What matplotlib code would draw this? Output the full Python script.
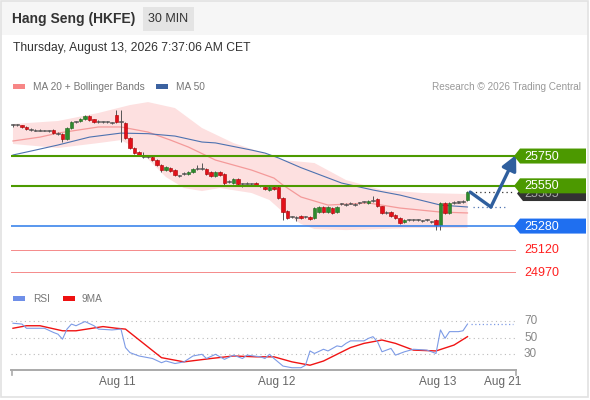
import matplotlib
matplotlib.use("Agg")
import matplotlib.pyplot as plt
from matplotlib.patches import Rectangle, Polygon

plt.rcParams['font.family'] = ['Liberation Sans', 'DejaVu Sans']

# 30 min candles, Hang Seng futures
opens = [25958, 25955, 25956, 25945, 25931, 25926, 25920, 25924, 25921, 25928,
         25905, 25898, 25864, 25938, 25978, 25982, 25998, 26018, 25996, 25980,
         25984, 25979, 25976, 26025, 25978, 25971, 25871, 25804, 25777, 25750,
         25747, 25743, 25723, 25690, 25656, 25669, 25656, 25620, 25630, 25629,
         25643, 25663, 25665, 25663, 25643, 25616, 25643, 25629, 25575, 25569,
         25596, 25566, 25565, 25566, 25569, 25550, 25542, 25522, 25542, 25542,
         25468, 25381, 25345, 25341, 25347, 25338, 25341, 25334, 25374, 25408,
         25374, 25401, 25374, 25426, 25428, 25430, 25428, 25432, 25439, 25435,
         25448, 25461, 25414, 25372, 25374, 25354, 25334, 25307, 25320, 25322,
         25320, 25316, 25320, 25308, 25321, 25287, 25435, 25368, 25432, 25438,
         25440, 25455]
closes = [25955, 25958, 25945, 25931, 25926, 25920, 25924, 25921, 25917, 25905,
          25898, 25864, 25938, 25978, 25982, 26000, 26018, 25992, 25978, 25985,
          25979, 25976, 25972, 25978, 25984, 25871, 25804, 25770, 25757, 25746,
          25743, 25723, 25690, 25656, 25676, 25649, 25623, 25616, 25636, 25643,
          25663, 25666, 25661, 25629, 25616, 25643, 25623, 25569, 25580, 25596,
          25562, 25562, 25568, 25562, 25555, 25546, 25529, 25542, 25529, 25468,
          25374, 25334, 25341, 25337, 25334, 25342, 25327, 25401, 25408, 25374,
          25408, 25368, 25408, 25430, 25424, 25435, 25424, 25436, 25443, 25448,
          25451, 25414, 25368, 25368, 25347, 25334, 25300, 25320, 25323, 25318,
          25324, 25312, 25322, 25304, 25287, 25435, 25368, 25435, 25436, 25442,
          25444, 25508]
highs = [25968, 25965, 25960, 25950, 25936, 25930, 25930, 25928, 25926, 25932,
         25910, 25902, 25942, 25982, 25988, 26004, 26024, 26022, 26000, 25990,
         25988, 25984, 25980, 26059, 26059, 25976, 25876, 25808, 25782, 25777,
         25757, 25748, 25728, 25694, 25680, 25674, 25660, 25626, 25642, 25648,
         25668, 25690, 25700, 25668, 25648, 25648, 25648, 25634, 25586, 25600,
         25600, 25572, 25574, 25572, 25574, 25555, 25546, 25546, 25548, 25546,
         25472, 25386, 25350, 25346, 25352, 25348, 25346, 25406, 25412, 25412,
         25412, 25406, 25412, 25436, 25434, 25440, 25434, 25442, 25448, 25452,
         25482, 25466, 25418, 25378, 25378, 25358, 25338, 25325, 25328, 25328,
         25330, 25322, 25328, 25314, 25326, 25440, 25440, 25440, 25448, 25450,
         25452, 25512]
lows = [25948, 25950, 25940, 25926, 25920, 25915, 25915, 25916, 25912, 25900,
        25892, 25844, 25860, 25934, 25972, 25978, 25994, 25988, 25974, 25975,
        25974, 25970, 25968, 25974, 25844, 25866, 25800, 25765, 25752, 25740,
        25736, 25718, 25684, 25640, 25650, 25644, 25618, 25610, 25625, 25624,
        25638, 25658, 25656, 25624, 25610, 25610, 25618, 25555, 25570, 25564,
        25556, 25540, 25560, 25556, 25550, 25540, 25524, 25518, 25524, 25462,
        25321, 25328, 25336, 25312, 25328, 25332, 25322, 25328, 25368, 25368,
        25368, 25362, 25368, 25420, 25418, 25425, 25418, 25426, 25434, 25430,
        25442, 25408, 25362, 25362, 25342, 25328, 25294, 25302, 25314, 25312,
        25314, 25306, 25314, 25298, 25253, 25253, 25362, 25362, 25426, 25432,
        25434, 25450]

# moving averages and Bollinger bands (bar index, price)
ma50_idx = [0, 5, 10, 17, 24, 30, 36, 42, 45, 53, 56, 59, 64, 73, 80, 86, 95, 101]
ma50_val = [25757, 25790, 25824, 25877, 25904, 25900, 25884, 25844, 25838, 25790,
            25770, 25737, 25672, 25569, 25522, 25488, 25421, 25408]
ma20_idx = [0, 6, 10, 19, 24, 30, 35, 39, 45, 53, 58, 60, 64, 70, 79, 86, 95, 101]
ma20_val = [25851, 25877, 25904, 25945, 25945, 25911, 25857, 25810, 25723, 25656,
            25602, 25555, 25475, 25421, 25435, 25401, 25374, 25368]
bb_up_idx = [0, 10, 19, 26, 30, 36, 42, 49, 55, 60, 67, 74, 82, 91, 101]
bb_up_val = [25965, 25985, 26039, 26092, 26112, 26072, 25938, 25837, 25777, 25723,
             25703, 25589, 25522, 25502, 25495]
bb_lo_idx = [0, 10, 19, 24, 28, 34, 38, 42, 46, 53, 57, 60, 64, 67, 74, 89, 101]
bb_lo_val = [25831, 25804, 25837, 25857, 25790, 25609, 25535, 25515, 25535, 25502,
             25455, 25374, 25294, 25260, 25253, 25267, 25267]

green_levels = [25750, 25550]
blue_level = 25280
red_levels = [25120, 24970]
last_price = 25505

forecast_idx = [101.6, 106.2, 111.8]
forecast_val = [25508, 25408, 25757]

# RSI panel
rsi_idx = [0, 2, 3, 7, 9, 10, 11, 12, 13, 14, 16, 18, 19, 22, 24, 25, 26, 28, 31, 33,
           34, 36, 38, 40, 42, 43, 45, 47, 49, 51, 52, 55, 56, 57, 58, 60, 62, 64, 65, 66,
           67, 69, 70, 72, 73, 74, 75, 78, 79, 80, 81, 82, 84, 85, 87, 89, 92, 93, 94, 95,
           96, 97, 99, 100, 101]
rsi_val = [67, 66, 61, 61, 56, 54, 48, 60, 66, 64, 69, 64, 60, 59, 60, 38, 32, 28, 25, 20,
           22, 19, 21, 28, 30, 25, 30, 24, 29, 25, 29, 27, 25, 30, 25, 16, 14, 14, 17, 34,
           31, 36, 34, 40, 39, 43, 46, 46, 49, 51, 45, 33, 37, 29, 33, 36, 35, 33, 31, 59,
           49, 57, 57, 58, 66]
ma9_idx = [0, 3, 6, 11, 14, 20, 23, 25, 29, 33, 38, 44, 49, 54, 58, 62, 66, 69, 75, 78,
           82, 85, 89, 94, 98, 101]
ma9_val = [61, 64, 64, 58, 58, 63, 61, 60, 43, 26, 21, 25, 28, 27, 27, 21, 17, 22, 38, 43,
           47, 43, 35, 34, 41, 51]
rsi_levels = [70, 50, 30]

day_labels = ['Aug 11', 'Aug 12', 'Aug 13', 'Aug 21']
day_pos = [23.1, 58.7, 94.4, 108.9]

W, H = 590, 400
fig = plt.figure(figsize=(W / 100, H / 100), dpi=100)
fig.patch.set_facecolor('white')


def px_rect(x0, y0, x1, y1):
    return [x0 / W, 1 - y1 / H, (x1 - x0) / W, (y1 - y0) / H]


XLIM = (-0.44, 111.78)
ax = fig.add_axes(px_rect(11, 100, 516, 290))
ax.set_xlim(*XLIM)
ax.set_ylim(24851, 26126)
ax.axis('off')

rax = fig.add_axes(px_rect(11, 305, 516, 369))
rax.set_xlim(*XLIM)
rax.set_ylim(12.5, 88.7)
rax.axis('off')

ov = fig.add_axes([0, 0, 1, 1], zorder=5)
ov.set_xlim(0, W)
ov.set_ylim(H, 0)
ov.axis('off')

# bollinger band + MAs
ax.fill(list(bb_up_idx) + bb_lo_idx[::-1], list(bb_up_val) + bb_lo_val[::-1],
        color='#fde0e0', lw=0, zorder=1)
ax.plot(ma20_idx, ma20_val, color='#f49a9a', lw=0.9, zorder=2)
ax.plot(ma50_idx, ma50_val, color='#4d72b0', lw=0.8, zorder=2)

# candles
for i, (o, c, h, l) in enumerate(zip(opens, closes, highs, lows)):
    if abs(c - o) < 8:
        col, edge = '#555555', '#555555'
    elif c > o:
        col, edge = '#2e8b2e', '#1f6a1f'
    else:
        col, edge = '#e3101a', '#a80000'
    ax.vlines(i, l, h, color='#555555', lw=0.7, zorder=3)
    bottom = min(o, c)
    height = max(abs(c - o), 7)
    ax.bar(i, height, bottom=bottom, width=0.72, color=col, edgecolor=edge,
           lw=0.4, zorder=4)

# levels
for lv in green_levels:
    ax.axhline(lv, color='#4c9a00', lw=1.5, zorder=6)
ax.axhline(blue_level, color='#2b7bea', lw=1.1, zorder=6)
for lv in red_levels:
    ax.axhline(lv, color='#f58a8a', lw=0.7, zorder=6)

# projection
ax.hlines(forecast_val[0], 101.8, 110.8, colors='#333333', linestyles=(0, (1, 2.5)),
          lw=0.9, zorder=5)
ax.hlines(ma50_val[-1], 102.3, 109.8, colors='#4d72b0', linestyles=(0, (1, 2.5)),
          lw=0.9, zorder=5)
ax.plot(forecast_idx[:2], forecast_val[:2], color='#2f5f9e', lw=2.4,
        solid_capstyle='round', zorder=7, clip_on=False)
ax.annotate('', xy=(forecast_idx[2], forecast_val[2]),
            xytext=(forecast_idx[1], forecast_val[1]),
            arrowprops=dict(arrowstyle='-|>,head_length=0.9,head_width=0.45',
                            lw=2.4, color='#2f5f9e', shrinkA=0, shrinkB=0),
            annotation_clip=False, zorder=7)


def ypx(a, v):
    return H - a.transData.transform((0, v))[1]


def xpx(a, v):
    return a.transData.transform((v, 0))[0]


def tag(y, text, face, tcolor, tip=514, z=6):
    pts = [(tip, y), (tip + 6, y - 7.5), (586, y - 7.5), (586, y + 7.5), (tip + 6, y + 7.5)]
    ov.add_patch(Polygon(pts, closed=True, facecolor=face, edgecolor='none', zorder=z))
    ov.text(524, y + 0.5, text, color=tcolor, fontsize=9, va='center', ha='left', zorder=z + 0.5)


# current price tag sits mostly behind the 25550 tag, as in the source
tag(ypx(ax, last_price) + 1, str(last_price), '#333333', '#aaaaaa', tip=517, z=5)
for lv in green_levels:
    tag(ypx(ax, lv), str(lv), '#4c9900', 'white')
tag(ypx(ax, blue_level), str(blue_level), '#1f6ff0', 'white')
for lv in red_levels:
    ov.text(524, ypx(ax, lv) + 0.5, str(lv), color='#ff2020', fontsize=9, va='center')

# RSI
for lv in rsi_levels:
    rax.axhline(lv, color='#bbbbbb', lw=0.8, linestyle=(0, (1, 3)))
    ov.text(524, ypx(rax, lv), str(lv), color='#888888', fontsize=8.5, va='center')
rax.plot(ma9_idx, ma9_val, color='#f01414', lw=1.0, zorder=3)
rax.plot(rsi_idx, rsi_val, color='#7d9be6', lw=0.8, zorder=4)
rax.hlines(rsi_val[-1], 101.8, 111.2, colors='#7d9be6', linestyles=(0, (1, 2)), lw=0.9)

# bottom time axis
ov.plot([11, 516], [370, 370], color='#aaaaaa', lw=1.4)
ov.plot([11.5, 11.5], [370, 375], color='#aaaaaa', lw=1.2)
ov.plot([515.5, 515.5], [370, 375], color='#aaaaaa', lw=1.2)
for lab, pos in zip(day_labels, day_pos):
    ov.text(xpx(ax, pos), 382, lab, color='#666666', fontsize=8.5, ha='center', va='center')

# header
ov.add_patch(Rectangle((1, 1), 587, 34, facecolor='#f6f6f6', edgecolor='none', zorder=0))
ov.add_patch(Rectangle((1, 1), 587, 396, facecolor='none', edgecolor='#e2e2e2', lw=1.2, zorder=0))
ov.text(12, 19, 'Hang Seng (HKFE)', fontsize=10, fontweight='bold', color='#333333', va='center')
ov.add_patch(Rectangle((143, 7), 51, 24, facecolor='#e4e4e4', edgecolor='none'))
ov.text(168.5, 19.5, '30 MIN', fontsize=9, color='#333333', ha='center', va='center')
ov.text(13, 48.5, 'Thursday, August 13, 2026 7:37:06 AM CET', fontsize=8.7,
        color='#333333', va='center')

# legends
ov.add_patch(Rectangle((13, 84), 12, 5, facecolor='#f78686', edgecolor='none'))
ov.text(33, 86.5, 'MA 20 + Bollinger Bands', fontsize=7.3, color='#777777', va='center')
ov.add_patch(Rectangle((156, 84), 12, 5, facecolor='#3c62a0', edgecolor='none'))
ov.text(176, 86.5, 'MA 50', fontsize=7.3, color='#777777', va='center')
ov.text(581, 86.5, 'Research \u00a9 2026 Trading Central', fontsize=7.2, color='#999999',
        va='center', ha='right')
ov.add_patch(Rectangle((13, 296), 12, 5, facecolor='#6f8fe8', edgecolor='none'))
ov.text(33, 298.5, 'RSI', fontsize=7.3, color='#777777', va='center')
ov.add_patch(Rectangle((63, 296), 12, 5, facecolor='#ee1111', edgecolor='none'))
ov.text(82, 298.5, '9MA', fontsize=7.3, color='#777777', va='center')

fig.savefig('out.png', dpi=100)
